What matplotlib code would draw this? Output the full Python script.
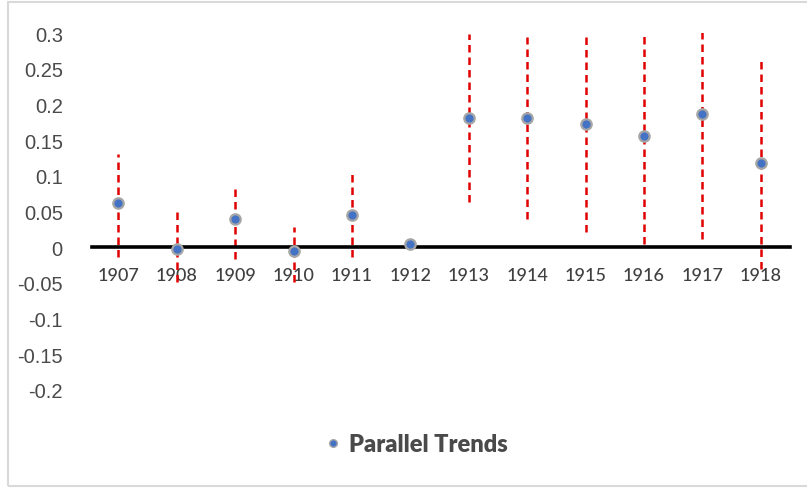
import matplotlib
matplotlib.use("Agg")
import matplotlib.pyplot as plt
from matplotlib.lines import Line2D
from matplotlib.patches import Rectangle

years = [1907, 1908, 1909, 1910, 1911, 1912, 1913, 1914, 1915, 1916, 1917, 1918]
estimates = [0.062, -0.003, 0.039, -0.005, 0.045, 0.004, 0.181, 0.181, 0.172, 0.156, 0.187, 0.118]
ci_low = [-0.014, -0.049, -0.017, -0.049, -0.014, 0.004, 0.064, 0.039, 0.021, 0.004, 0.011, -0.031]
ci_high = [0.130, 0.050, 0.083, 0.028, 0.108, 0.004, 0.298, 0.294, 0.304, 0.298, 0.304, 0.263]
yticks = [0.3, 0.25, 0.2, 0.15, 0.1, 0.05, 0, -0.05, -0.1, -0.15, -0.2]
ytick_labels = ["0.3", "0.25", "0.2", "0.15", "0.1", "0.05", "0", "-0.05", "-0.1", "-0.15", "-0.2"]
legend_label = "Parallel Trends"

W, H = 807, 489
fig = plt.figure(figsize=(W / 100, H / 100), dpi=100)
fig.patch.set_facecolor("white")

# outer frame
fig.patches.append(Rectangle((8 / W, 2 / H), (W + 5 - 8) / W, (H - 5) / H,
                             transform=fig.transFigure, fill=False,
                             edgecolor="#D9D9D9", linewidth=1.5))

ax = fig.add_axes([92 / W, (H - 391) / H, 698 / W, (391 - 34) / H])
ax.set_xlim(1906.55, 1918.5)
ax.set_ylim(-0.2, 0.3)

ax.vlines(years, ci_low, ci_high, colors="#E00000", linestyles=(0, (3.0, 2.0)),
          linewidth=1.8, zorder=2)
ax.plot(years, estimates, linestyle="none", marker="o", markersize=7.5,
        markerfacecolor="#4472C4", markeredgecolor="#A6A6A6", markeredgewidth=1.6,
        zorder=4)

for s in ["top", "right", "left"]:
    ax.spines[s].set_visible(False)
ax.spines["bottom"].set_position(("data", 0))
ax.spines["bottom"].set_linewidth(2.6)
ax.spines["bottom"].set_color("black")
ax.spines["bottom"].set_zorder(3)

ax.set_xticks(years)
ax.set_xticklabels([str(y) for y in years], fontfamily="Lato", fontsize=13,
                   color="#404040", fontweight="medium")
ax.tick_params(axis="x", length=0, pad=14)
ax.set_yticks(yticks)
ax.set_yticklabels(ytick_labels, fontfamily="Liberation Sans", fontsize=14.5, color="#4A4A4A")
ax.tick_params(axis="y", length=0, pad=21)

handle = Line2D([], [], linestyle="none", marker="o", markersize=5.5,
                markerfacecolor="#4472C4", markeredgecolor="#A6A6A6", markeredgewidth=1.0)
leg = fig.legend([handle], [legend_label], loc="center", bbox_to_anchor=(417 / W, 1 - 445 / H),
                 frameon=False, handlelength=0.6, handletextpad=0.4,
                 prop={"family": "Lato", "weight": "heavy", "size": 17})
for t in leg.get_texts():
    t.set_color("#4A4A4A")

fig.savefig("out.png", dpi=100, facecolor="white")
